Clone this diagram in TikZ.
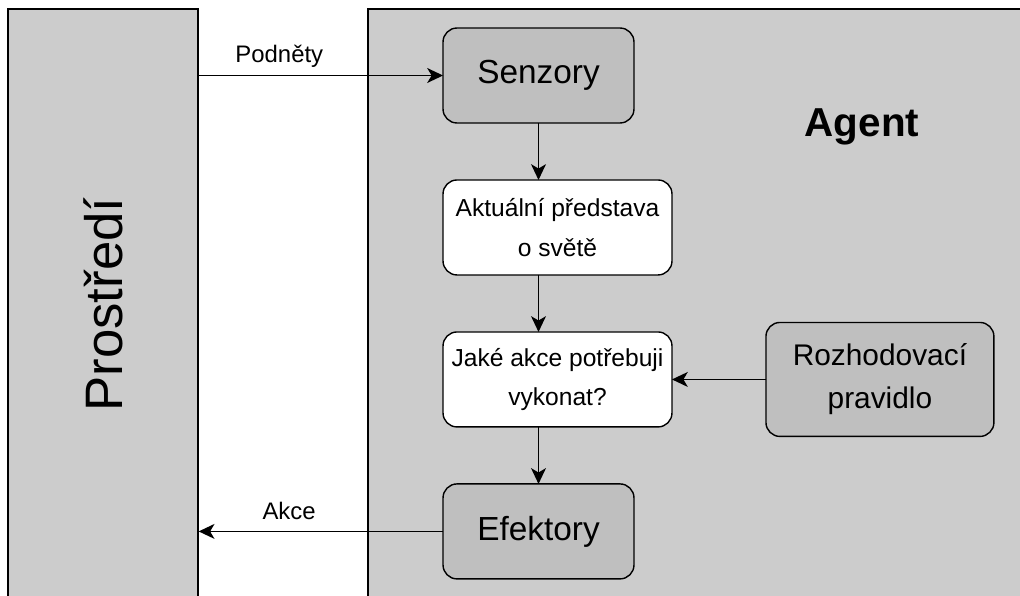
\documentclass[tikz,border=0pt]{standalone}
\usepackage{fontspec}
\setmainfont{Liberation Sans}
\usepackage{xcolor}
\usepackage{tikz}
\usetikzlibrary{calc, positioning, arrows.meta}
\definecolor{areagray}{HTML}{CCCCCC}
\definecolor{partgray}{HTML}{BFBFBF}
\tikzstyle{area}     = [rectangle, draw=black, line width=0.8pt, fill=areagray, minimum height=11.82cm, inner sep=0pt]
\tikzstyle{part}     = [rectangle, rounded corners=0.28cm, draw=black, line width=0.8pt, fill=partgray, minimum width=3.82cm, minimum height=1.9cm, align=center, inner sep=0pt, outer sep=0pt, font=\fontsize{19}{23}\selectfont]
\tikzstyle{state}    = [rectangle, rounded corners=0.28cm, draw=black, line width=0.8pt, fill=white, minimum width=4.58cm, minimum height=1.9cm, align=center, inner sep=0pt, outer sep=0pt, font=\fontsize{14}{22.5}\selectfont]
\tikzstyle{flowtext} = [font=\fontsize{13.6}{16}\selectfont, inner sep=2pt]
\tikzstyle{arrow}    = [line width=0.8pt, -{Stealth[length=9pt, width=8.5pt, inset=2.5pt]}]

\begin{document}
\begin{tikzpicture}[x=0.02cm, y=-0.02cm, node distance=1.14cm]
    \useasboundingbox (0,0) rectangle (1020,595);

    \node (env)   [area, minimum width=3.8cm]   at (103,304.5) {\rotatebox{90}{\fontsize{30}{36}\selectfont Prostředí}};
    \node (agent) [area, minimum width=13.24cm] at (699,304.5) {};
    \node (title) [font=\fontsize{23}{28}\selectfont\bfseries] at (862,127) {Agent};

    \node (sensors)   [part] at (538.5,75.5) {Senzory};
    \node (world)     [state, below=of sensors.south west, anchor=north west] {Aktuální představa\\o světě};
    \node (decide)    [state, below=of world] {Jaké akce potřebuji\\vykonat?};
    \node (effectors) [part,  below=of decide.south west, anchor=north west] {Efektory};
    \node (rule)      [part,  right=1.88cm of decide, minimum width=4.56cm, minimum height=2.28cm, font=\fontsize{17}{24.5}\selectfont] {Rozhodovací\\pravidlo};

    % arrows
    \draw [arrow] (sensors.west -| env.east) -- node[flowtext, pos=0.33, above=2pt] {Podněty} (sensors.west);
    \draw [arrow] (effectors.west) -- node[flowtext, pos=0.63, above=4.5pt] {Akce} (effectors.west -| env.east);
    \draw [arrow] (sensors) -- (sensors |- world.north);
    \draw [arrow] (world.south -| sensors) -- (decide.north -| sensors);
    \draw [arrow] (decide.south -| sensors) -- (effectors);
    \draw [arrow] (rule) -- (decide);

\end{tikzpicture}
\end{document}
